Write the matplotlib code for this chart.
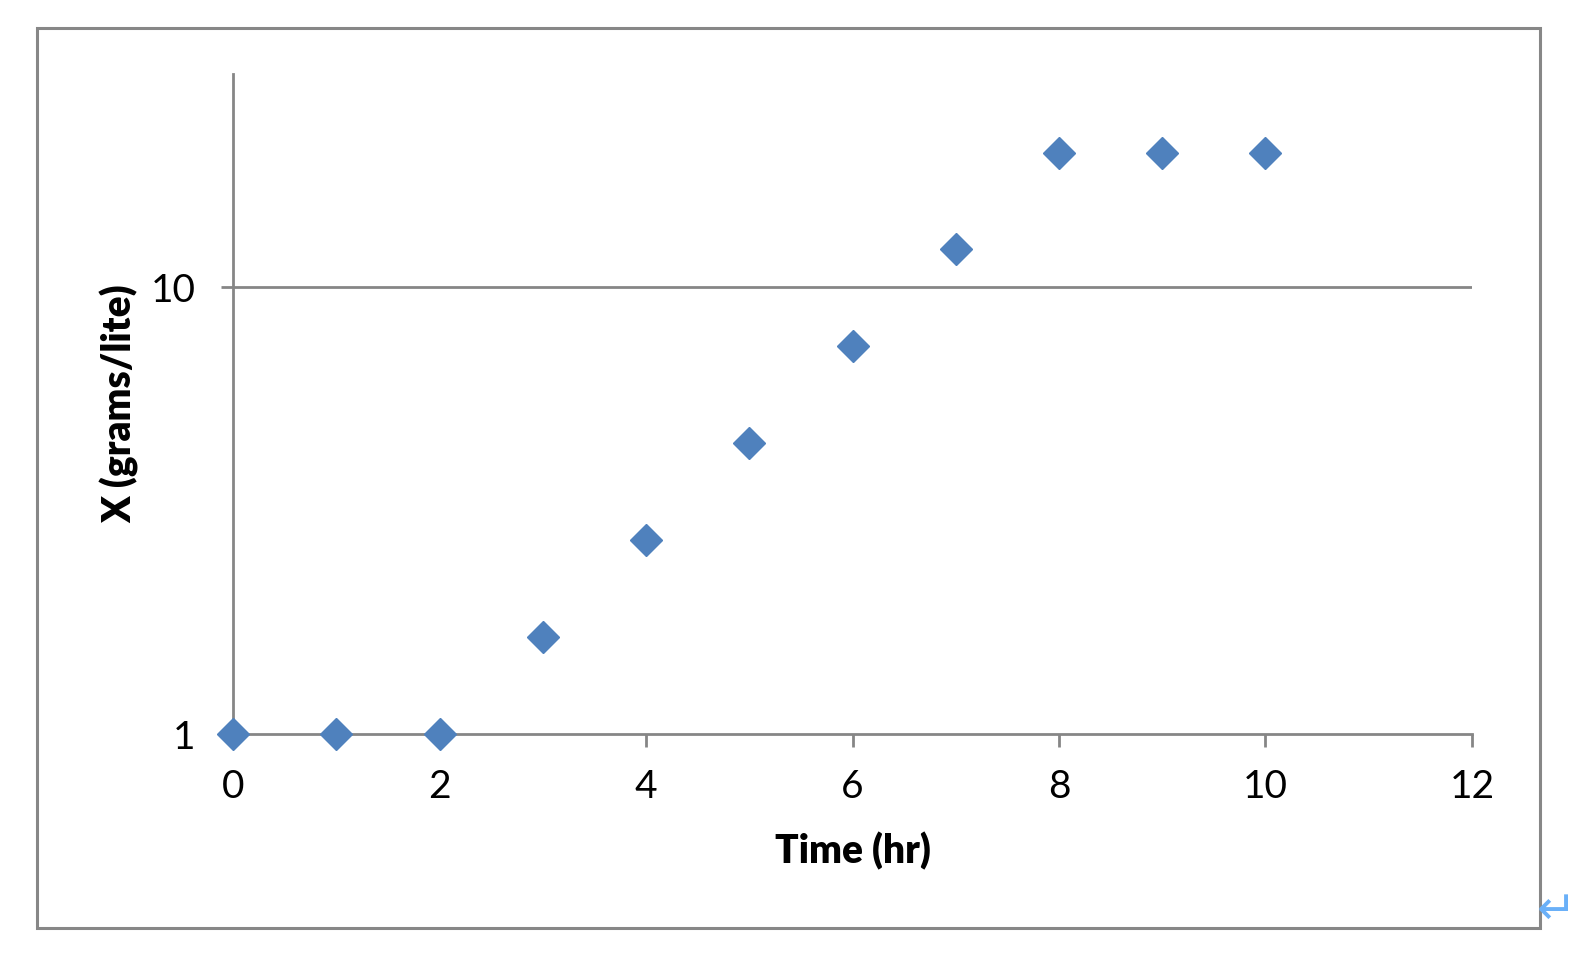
import numpy as np
import matplotlib.pyplot as plt
from matplotlib.patches import Rectangle

plt.rcParams['font.family'] = ['Lato', 'DejaVu Sans']

# biomass over time
time_hr = [0, 1, 2, 3, 4, 5, 6, 7, 8, 9, 10]
x_gpl = [1.0, 1.0, 1.0, 1.65, 2.72, 4.48, 7.39, 12.2, 20.0, 20.0, 20.0]
x_ticks = [0, 2, 4, 6, 8, 10, 12]
y_ticks = [1, 10]

axis_grey = '#868686'
marker_blue = '#4F81BD'

fig = plt.figure(figsize=(15.92, 9.68), dpi=100)
ax = fig.add_axes([0.1464, 0.2417, 0.9246 - 0.1464, 0.9236 - 0.2417])

ax.plot(time_hr, x_gpl, linestyle='none', marker='D', markersize=16,
        color=marker_blue, markeredgecolor=marker_blue, clip_on=False, zorder=5)

ax.set_yscale('log')
ax.set_xlim(0, 12)
ax.set_ylim(1, 30)
ax.set_xticks(x_ticks)
ax.set_xticklabels([str(t) for t in x_ticks])
ax.set_yticks(y_ticks)
ax.set_yticklabels([str(t) for t in y_ticks])
ax.yaxis.set_minor_locator(plt.NullLocator())
ax.xaxis.set_minor_locator(plt.NullLocator())

ax.axhline(10, color=axis_grey, linewidth=2, zorder=1)

for s in ['top', 'right']:
    ax.spines[s].set_visible(False)
for s in ['left', 'bottom']:
    ax.spines[s].set_color(axis_grey)
    ax.spines[s].set_linewidth(2)

ax.tick_params(axis='both', direction='out', length=9, width=2,
               color=axis_grey, labelsize=28)
ax.tick_params(axis='x', pad=16)
ax.tick_params(axis='y', pad=18)

ax.set_xlabel('Time (hr)', fontsize=28, fontweight='heavy', labelpad=20)
ax.set_ylabel('X (grams/lite)', fontsize=28, fontweight='heavy', labelpad=8)

# outer chart border
fig.patches.append(Rectangle((37 / 1592, 1 - 928 / 968), (1540 - 37) / 1592, (928 - 28) / 968,
                             transform=fig.transFigure, fill=False,
                             edgecolor='#878787', linewidth=2.2))
fig.text(1556 / 1592, 1 - 911 / 968, '\u21b5', fontsize=34, color='#6AB0F8',
         ha='center', va='center', family='DejaVu Sans')

fig.savefig('out.png', dpi=100)
